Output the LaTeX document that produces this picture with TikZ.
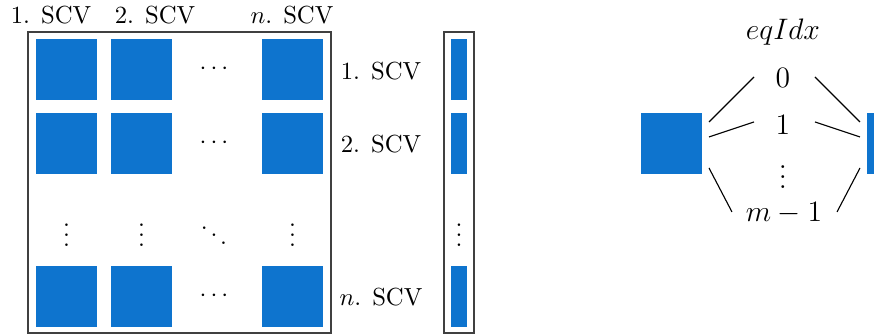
\documentclass[tikz,border=0pt]{standalone}
\definecolor{blk}{RGB}{14,116,206}
\begin{document}
\begin{tikzpicture}[x=0.405pt,y=-0.405pt,
  sq/.style={fill=blk,draw=none,minimum width=24.7pt,minimum height=24.7pt,inner sep=0pt,outer sep=0pt},
  vs/.style={fill=blk,draw=none,minimum width=6.5pt,minimum height=24.7pt,inner sep=0pt,outer sep=0pt},
  frame/.style={draw=black!75,line width=0.5pt,inner sep=0pt},
  lbl/.style={inner sep=0pt,anchor=center},
  big/.style={inner sep=0pt,anchor=center,font=\large},
  conn/.style={line width=0.45pt}]
\useasboundingbox (0,0) rectangle (874,334);
% matrix frame
\node[frame,minimum width=122.7pt,minimum height=121.9pt] (mf) at (179.5,182.5) {};
\node[frame,minimum width=12.2pt,minimum height=121.9pt] (vf) at (459,182.5) {};
% blocks
\node[sq] (a11) at (66.5,69.5) {};
\node[sq] (a12) at (141.5,69.5) {};
\node[lbl] (d1) at (214,69.5) {$\cdots$};
\node[sq] (a1n) at (292.5,69.5) {};
\node[sq] (a21) at (66.5,143.5) {};
\node[sq] (a22) at (141.5,143.5) {};
\node[lbl] (d2) at (214,143.5) {$\cdots$};
\node[sq] (a2n) at (292.5,143.5) {};
\node[lbl] (v1) at (66.5,228) {$\vdots$};
\node[lbl] (v2) at (141.5,228) {$\vdots$};
\node[lbl] (dd) at (214,228) {$\ddots$};
\node[lbl] (vn) at (292.5,228) {$\vdots$};
\node[sq] (an1) at (66.5,296.5) {};
\node[sq] (an2) at (141.5,296.5) {};
\node[lbl] (dn) at (214,296.5) {$\cdots$};
\node[sq] (ann) at (292.5,296.5) {};
% vector
\node[vs] (b1) at (459,69.5) {};
\node[vs] (b2) at (459,143.5) {};
\node[lbl] (bv) at (459,228) {$\vdots$};
\node[vs] (bn) at (459,296.5) {};
% column labels
\node[lbl] (c1) at (51,15) {1. SCV};
\node[lbl] (c2) at (155,15) {2. SCV};
\node[lbl] (cn) at (292,15) {$n$. SCV};
% row labels
\node[lbl] (r1) at (381,71) {1. SCV};
\node[lbl] (r2) at (381,144) {2. SCV};
\node[lbl] (rn) at (381,297) {$n$. SCV};
% right part
\node[sq] (lb) at (671.5,144) {};
\node[vs] (rb) at (875,144) {};
\node[big] (eq) at (783,32) {$eqIdx$};
\node[big] (i0) at (783,78) {$0$};
\node[big] (i1) at (783,125) {$1$};
\node[big] (iv) at (783,170) {$\vdots$};
\node[big] (im) at (784,213) {$m-1$};
\coordinate (p0) at (709,122);
\coordinate (q0) at (754,77);
\coordinate (p1) at (709,137);
\coordinate (q1) at (754,122);
\coordinate (pm) at (709,168);
\coordinate (qm) at (732,212);
\coordinate (s0) at (815,77);
\coordinate (t0) at (860,122);
\coordinate (s1) at (815,122);
\coordinate (t1) at (860,137);
\coordinate (sm) at (837,212);
\coordinate (tm) at (860,168);
\draw[conn] (p0) -- (q0);
\draw[conn] (p1) -- (q1);
\draw[conn] (pm) -- (qm);
\draw[conn] (s0) -- (t0);
\draw[conn] (s1) -- (t1);
\draw[conn] (sm) -- (tm);
\end{tikzpicture}
\end{document}
